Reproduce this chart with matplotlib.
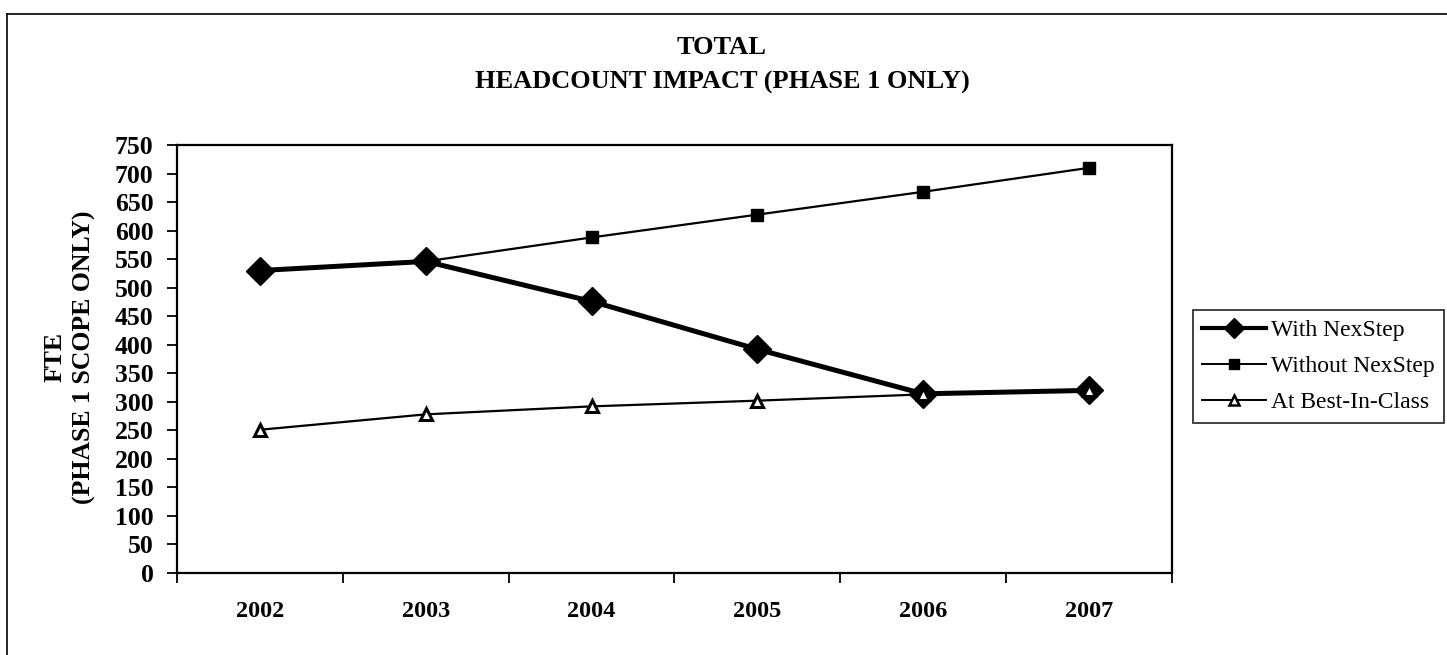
import matplotlib
matplotlib.use("Agg")
import matplotlib.pyplot as plt
from matplotlib.lines import Line2D

years = ["2002", "2003", "2004", "2005", "2006", "2007"]
with_nexstep = [530, 546, 476, 392, 314, 320]
without_nexstep = [530, 546, 588, 628, 668, 710]
best_in_class = [251, 278, 292, 302, 313, 320]
series_names = ["With NexStep", "Without NexStep", "At Best-In-Class"]
yticks = list(range(0, 751, 50))

plt.rcParams['font.family'] = ['Liberation Serif', 'DejaVu Serif']

W, H = 1447, 655
fig = plt.figure(figsize=(W / 100, H / 100), dpi=100)
ax = fig.add_axes([177 / W, 1 - 573 / H, (1172 - 177) / W, (573 - 145) / H])

x = list(range(len(years)))
ax.plot(x, with_nexstep, color='black', lw=3.6, marker='D', ms=14,
        mfc='black', mec='black', zorder=3)
ax.plot(x, without_nexstep, color='black', lw=1.6, marker='s', ms=8.5,
        mfc='black', mec='black', zorder=4)
ax.plot(x, best_in_class, color='black', lw=1.6, marker='^', ms=8.5,
        mfc='white', mec='black', mew=2.2, zorder=5)

ax.set_xlim(-0.5, len(years) - 0.5)
ax.set_ylim(0, 750)
ax.set_yticks(yticks)
ax.set_yticklabels([str(v) for v in yticks], fontsize=18.5, fontweight='bold')
ax.set_xticks(x)
ax.set_xticklabels(years, fontsize=17.5, fontweight='bold')
ax.set_xticks([i - 0.5 for i in range(len(years) + 1)], minor=True)
ax.tick_params(axis='x', which='major', length=0, pad=20)
ax.tick_params(axis='x', which='minor', length=7, width=1.3, direction='out')
ax.tick_params(axis='y', which='major', length=7, width=1.3, direction='out', pad=10)
for s in ax.spines.values():
    s.set_linewidth(1.6)

fig.text(70 / W, 1 - 357 / H, "FTE\n(PHASE 1 SCOPE ONLY)", rotation=90,
         ha='center', va='center', fontsize=18.5, fontweight='bold',
         linespacing=1.35)

fig.text(722 / W, 1 - 47 / H, "TOTAL", ha='center', va='center',
         fontsize=19, fontweight='bold')
fig.text(722 / W, 1 - 82 / H, "HEADCOUNT IMPACT (PHASE 1 ONLY)", ha='center',
         va='center', fontsize=19, fontweight='bold')

handles = [
    Line2D([], [], color='black', lw=3.0, marker='D', ms=10, mfc='black'),
    Line2D([], [], color='black', lw=1.4, marker='s', ms=7.5, mfc='black'),
    Line2D([], [], color='black', lw=1.4, marker='^', ms=7.5, mfc='white', mew=1.8),
]
leg = fig.legend(handles, series_names, loc='upper left',
                 bbox_to_anchor=(1193 / W, 1 - 310 / H), fontsize=17,
                 frameon=True, fancybox=False, edgecolor='black',
                 handlelength=2.7, handletextpad=0.2, borderpad=0.4,
                 labelspacing=0.62, borderaxespad=0)
leg.get_frame().set_linewidth(1.3)

# outer border of the scanned chart
fig.add_artist(Line2D([7 / W, 1.0], [1 - 14 / H, 1 - 14 / H], color='black', lw=1.2,
                      transform=fig.transFigure))
fig.add_artist(Line2D([7 / W, 7 / W], [0, 1 - 14 / H], color='black', lw=1.2,
                      transform=fig.transFigure))

fig.savefig("out.png", dpi=100)
